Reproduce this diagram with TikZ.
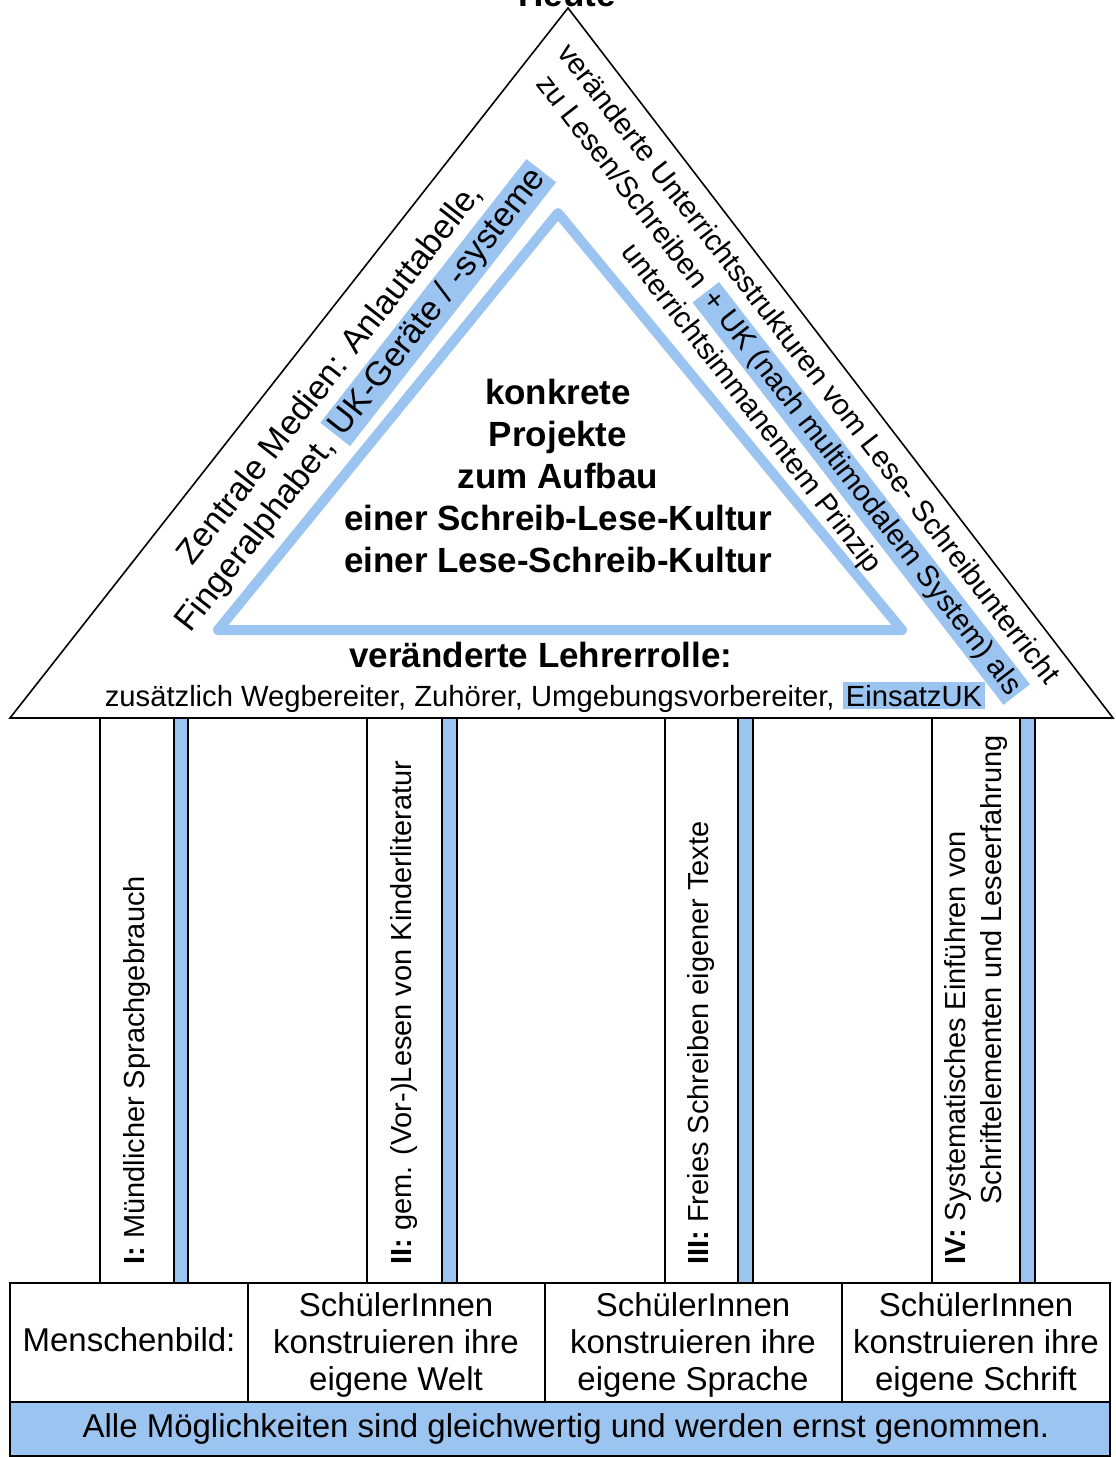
\documentclass[tikz,border=0pt]{standalone}
\usepackage{xcolor}
\usepackage{fontspec}
\setmainfont{Liberation Sans}
\usetikzlibrary{positioning}
\definecolor{ukblue}{RGB}{155,196,240}
\newcommand{\ukmark}[1]{{\setlength{\fboxsep}{1.5pt}\colorbox{ukblue}{#1}}}
\tikzset{
  outline/.style={draw, line width=0.8pt},
  ukbar/.style={draw, fill=ukblue, line width=0.9pt},
  pillar/.style={draw, fill=white, line width=0.9pt},
  slanttext/.style={inner sep=0pt, align=center},
  pillartext/.style={rotate=90, anchor=west, inner sep=0pt, align=left, font=\fontsize{14.5}{18}\selectfont},
  cell/.style={align=center, inner sep=0pt, font=\fontsize{16.5}{18.5}\selectfont},
}

\begin{document}
\begin{tikzpicture}[x=0.5pt, y=-0.5pt]
  \useasboundingbox (0,0) rectangle (1115,1457);
  \node[font=\fontsize{17.5}{21}\bfseries, anchor=base] (heute) at (567,6) {Heute};
  \draw[outline] (10,718) -- (568,8) -- (1113,718) -- cycle;
  \draw[ukblue, line width=5pt, line join=round] (558,213) -- (218,630) -- (902,630) -- cycle;
  \node[slanttext, rotate=52, font=\fontsize{17}{20}\selectfont] (medien) at (348,388)
    {Zentrale Medien: Anlauttabelle,\\Fingeralphabet, \ukmark{UK-Geräte / -systeme}};
  \node[slanttext, rotate=-52.3, font=\fontsize{14.75}{18}\selectfont] (struktur) at (779,387)
    {veränderte Unterrichtsstrukturen vom Lese- Schreibunterricht\\zu Lesen/Schreiben \ukmark{+ UK (nach multimodalem System) als}\\unterrichtsimmanentem Prinzip};
  \node[align=center, font=\fontsize{17.5}{21}\bfseries] (projekte) at (558,476)
    {konkrete\\Projekte\\zum Aufbau\\einer Schreib-Lese-Kultur\\einer Lese-Schreib-Kultur};
  \node[font=\fontsize{17.5}{21}\bfseries] (rolle) at (541,655) {veränderte Lehrerrolle:};
  \node[font=\fontsize{14.6}{17}\selectfont, below=0pt of rolle, xshift=2pt] (aufgaben)
    {zusätzlich Wegbereiter, Zuhörer, Umgebungsvorbereiter, \ukmark{EinsatzUK}};

  \draw[pillar] (100,718) rectangle (174,1283);
  \draw[ukbar] (174,718) rectangle (188,1283);
  \draw[pillar] (367,718) rectangle (442,1283);
  \draw[ukbar] (442,718) rectangle (457,1283);
  \draw[pillar] (665,718) rectangle (738,1283);
  \draw[ukbar] (738,718) rectangle (753,1283);
  \draw[pillar] (932,718) rectangle (1020,1283);
  \draw[ukbar] (1020,718) rectangle (1035,1283);
  \node[pillartext] (saeule1) at (137,1265) {\textbf{I:} Mündlicher Sprachgebrauch};
  \node[pillartext] (saeule2) at (404,1265) {\textbf{II:} gem. (Vor-)Lesen von Kinderliteratur};
  \node[pillartext] (saeule3) at (701,1265) {\textbf{III:} Freies Schreiben eigener Texte};
  \node[pillartext] (saeule4) at (976,1265)
    {\textbf{IV:} Systematisches Einführen von\\\hspace*{30pt}Schriftelementen und Leseerfahrung};

  \draw[outline] (10,1283) rectangle (1110,1402);
  \draw[outline] (248,1283) -- (248,1402);
  \draw[outline] (545,1283) -- (545,1402);
  \draw[outline] (842,1283) -- (842,1402);
  \draw[ukbar] (10,1402) rectangle (1110,1456);
  \node[cell] (bild) at (129,1340) {Menschenbild:};
  \node[cell] (welt) at (396,1345) {SchülerInnen\\konstruieren ihre\\eigene Welt};
  \node[cell] (sprache) at (693,1345) {SchülerInnen\\konstruieren ihre\\eigene Sprache};
  \node[cell] (schrift) at (976,1345) {SchülerInnen\\konstruieren ihre\\eigene Schrift};
  \node[cell] (gleich) at (566,1429) {Alle Möglichkeiten sind gleichwertig und werden ernst genommen.};
\end{tikzpicture}
\end{document}
